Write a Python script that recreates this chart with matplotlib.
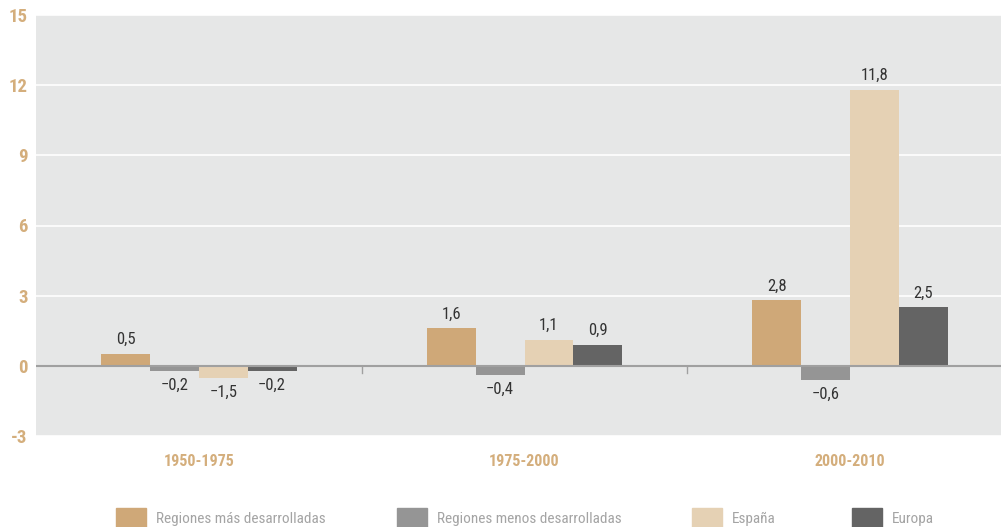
import matplotlib
matplotlib.use('Agg')
import numpy as np
import matplotlib.pyplot as plt
from matplotlib.patches import Rectangle
from matplotlib import font_manager

# Data
periods = ['1950-1975', '1975-2000', '2000-2010']
series = ['Regiones más desarrolladas', 'Regiones menos desarrolladas', 'España', 'Europa']
mas_desarrolladas = [0.5, 1.6, 2.8]
menos_desarrolladas = [-0.2, -0.4, -0.6]
espana = [-0.5, 1.1, 11.8]          # bar as drawn in the source
europa = [-0.2, 0.9, 2.5]
mas_labels = ['0,5', '1,6', '2,8']
menos_labels = ['\u22120,2', '\u22120,4', '\u22120,6']
espana_labels = ['\u22121,5', '1,1', '11,8']
europa_labels = ['\u22120,2', '0,9', '2,5']
yticks = [-3, 0, 3, 6, 9, 12, 15]

colors = ['#cfa878', '#959595', '#e5d1b4', '#646464']
tan = '#d4ae7c'

# pick a condensed face if one is around
names = set(f.name for f in font_manager.fontManager.ttflist)
narrow = 'DejaVu Sans'
for cand in ['Roboto Condensed', 'Liberation Sans Narrow', 'Archivo Narrow',
             'PT Sans Narrow', 'Arimo', 'DejaVu Sans Condensed']:
    if cand in names:
        narrow = cand
        break
plt.rcParams['font.family'] = [narrow, 'DejaVu Sans']

W, H = 1001, 527
fig = plt.figure(figsize=(W / 100, H / 100), dpi=100)
ax = fig.add_axes([36 / W, (H - 436) / H, (1013 - 36) / W, (436 - 15) / H])
ax.set_facecolor('#e6e7e7')

x = np.arange(len(periods))
bw = 0.15
all_vals = [mas_desarrolladas, menos_desarrolladas, espana, europa]
all_labs = [mas_labels, menos_labels, espana_labels, europa_labels]
for i, (vals, labs) in enumerate(zip(all_vals, all_labs)):
    xs = x + (i - 1.5) * bw
    ax.bar(xs, vals, width=bw, color=colors[i], zorder=3)
    for xi, v, lab in zip(xs, vals, labs):
        if v >= 0:
            ax.annotate(lab, (xi, v), xytext=(0, 5), textcoords='offset points',
                        ha='center', va='bottom', fontsize=12, color='#333333')
        else:
            ax.annotate(lab, (xi, v), xytext=(0, -5), textcoords='offset points',
                        ha='center', va='top', fontsize=12, color='#333333')

ax.set_xlim(-0.5, 2.5)
ax.set_ylim(-3, 15)
ax.set_yticks(yticks)
ax.set_yticklabels([str(t) for t in yticks], fontsize=13.5, fontweight='heavy', color=tan)
ax.tick_params(axis='y', length=0, pad=6)
ax.set_xticks([])
ax.grid(axis='y', color='white', linewidth=1.2, zorder=1)
ax.axhline(0, color='#a0a0a0', linewidth=1.5, zorder=4)
for s in ax.spines.values():
    s.set_visible(False)

# small separators between groups
for sep in [0.5, 1.5]:
    ax.plot([sep, sep], [0, -0.3], color='#a0a0a0', linewidth=1, zorder=4)

for xi, p in zip(x, periods):
    ax.annotate(p, (xi, -3), xytext=(0, -18), textcoords='offset points',
                ha='center', va='center', fontsize=11.5, fontweight='bold', color=tan,
                annotation_clip=False)

# legend along the bottom
leg_x = [116, 397, 692, 852]
for lx, name, c in zip(leg_x, series, colors):
    fig.add_artist(Rectangle((lx / W, 0), 30 / W, 19 / H, transform=fig.transFigure,
                             color=c))
    fig.text((lx + 40) / W, 8 / H, name, fontsize=11, color='#a4a4a4',
             ha='left', va='center')

fig.savefig('out.png', dpi=100)
